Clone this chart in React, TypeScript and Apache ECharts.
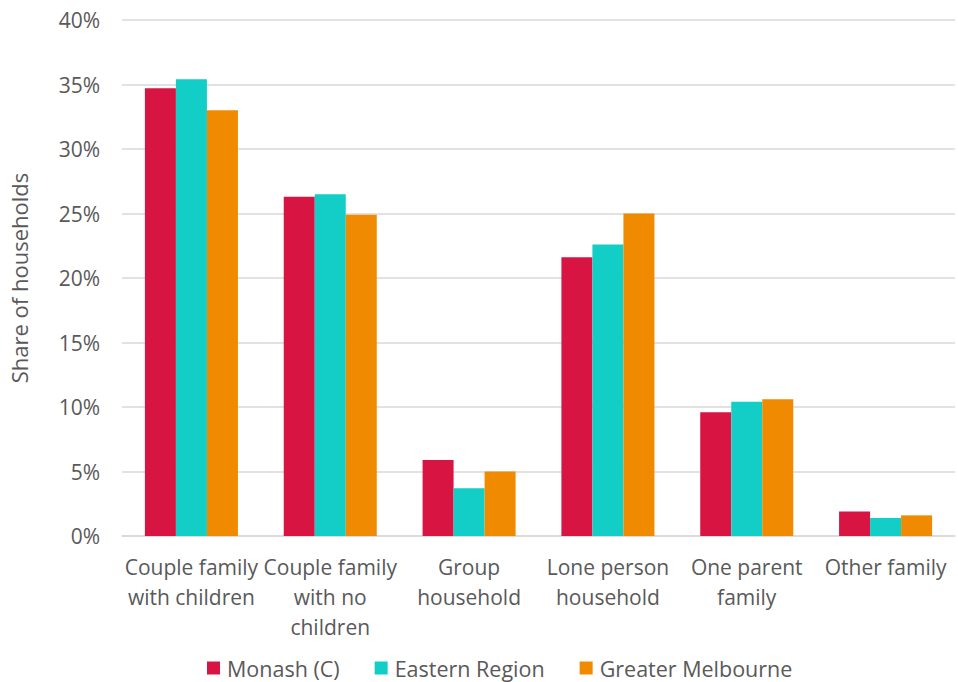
import React, { useEffect, useRef } from "react";
import * as echarts from "echarts";

const categories = [
  "Couple family\nwith children",
  "Couple family\nwith no\nchildren",
  "Group\nhousehold",
  "Lone person\nhousehold",
  "One parent\nfamily",
  "Other family",
];
const monash = [34.7, 26.3, 5.9, 21.6, 9.6, 1.9];
const eastern = [35.4, 26.5, 3.7, 22.6, 10.4, 1.4];
const greater = [33.0, 24.9, 5.0, 25.0, 10.6, 1.6];
const seriesNames = ["Monash (C)", "Eastern Region", "Greater Melbourne"];
const colors = ["#D81443", "#12CEC7", "#F08A00"];

const FONT = "'Open Sans', 'Noto Sans', sans-serif";

export default function App() {
  const ref = useRef<HTMLDivElement>(null);
  useEffect(() => {
    if (!ref.current) return;
    const chart = echarts.init(ref.current, undefined, { renderer: "svg" });
    const data = [monash, eastern, greater];
    chart.setOption({
      animation: false,
      backgroundColor: "#ffffff",
      textStyle: { fontFamily: FONT },
      grid: { left: 120, right: 3, top: 20, bottom: 146, containLabel: false },
      legend: {
        top: 657,
        left: 207,
        padding: 0,
        itemWidth: 13,
        itemHeight: 13,
        itemGap: 35,
        icon: "rect",
        textStyle: {
          fontSize: 21.5,
          color: "#595959",
          fontFamily: FONT,
          padding: [0, 0, 0, 2],
        },
        data: seriesNames,
      },
      xAxis: {
        type: "category",
        data: categories,
        axisLine: { show: true, lineStyle: { color: "#d9d9d9", width: 1.5 } },
        axisTick: { show: false },
        axisLabel: {
          color: "#595959",
          fontSize: 21,
          lineHeight: 30,
          margin: 16,
          interval: 0,
          fontFamily: FONT,
        },
      },
      yAxis: {
        type: "value",
        min: 0,
        max: 40,
        interval: 5,
        name: "Share of households",
        nameLocation: "middle",
        nameGap: 92,
        nameRotate: 90,
        nameTextStyle: { color: "#595959", fontSize: 22, fontFamily: FONT },
        axisLine: { show: false },
        axisTick: { show: false },
        axisLabel: {
          color: "#595959",
          fontSize: 21,
          margin: 22,
          formatter: (v: number) => `${v}%`,
          fontFamily: FONT,
        },
        splitLine: { lineStyle: { color: "#d9d9d9", width: 1.5 } },
      },
      series: seriesNames.map((name, i) => ({
        name,
        type: "bar",
        data: data[i],
        barGap: "0%",
        barCategoryGap: "33%",
        itemStyle: { color: colors[i] },
      })),
    });
    return () => chart.dispose();
  }, []);
  return (
    <div
      ref={ref}
      style={{ position: "fixed", left: 0, top: 0, width: 958, height: 682 }}
    />
  );
}
